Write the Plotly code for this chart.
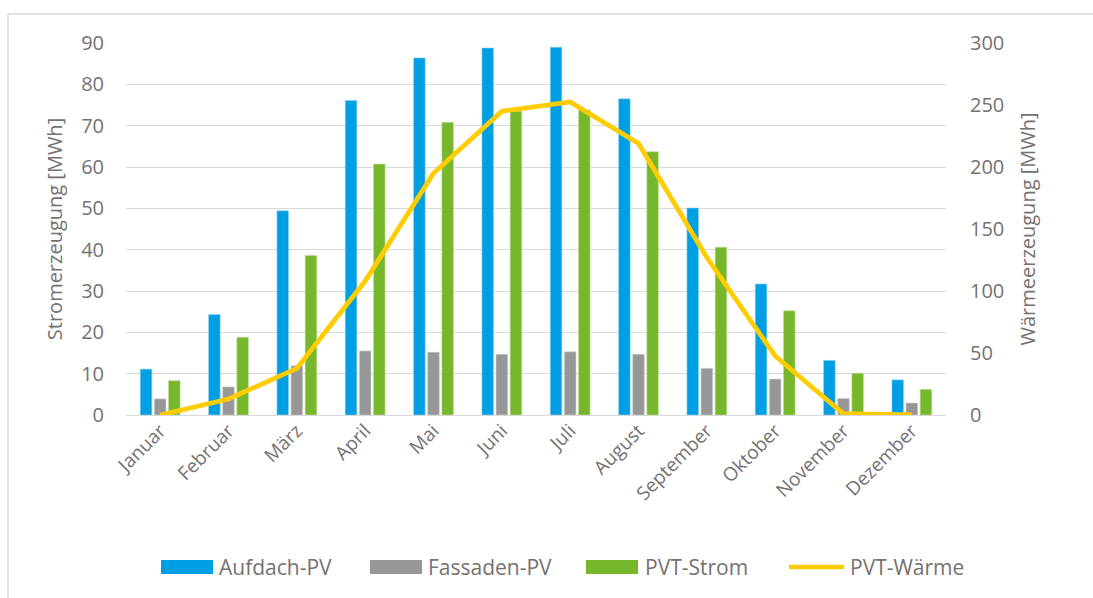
import plotly.graph_objects as go

months = ["Januar", "Februar", "März", "April", "Mai", "Juni", "Juli",
          "August", "September", "Oktober", "November", "Dezember"]
aufdach_pv = [11.1, 24.3, 49.4, 76.1, 86.4, 88.8, 89.0, 76.5, 50.1, 31.7, 13.2, 8.5]
fassaden_pv = [3.9, 6.8, 11.9, 15.5, 15.2, 14.7, 15.3, 14.7, 11.3, 8.7, 4.0, 2.9]
pvt_strom = [8.3, 18.8, 38.6, 60.7, 70.8, 73.5, 73.8, 63.7, 40.6, 25.2, 10.1, 6.2]
pvt_waerme = [0.0, 12.9, 37.6, 108.0, 195.0, 245.0, 252.5, 219.0, 127.0, 47.6, 1.0, 0.0]

left_ticks = list(range(0, 91, 10))
right_ticks = list(range(0, 301, 50))

series_names = ["Aufdach-PV", "Fassaden-PV", "PVT-Strom", "PVT-Wärme"]
series_colors = ["#009FE3", "#979797", "#77B72C", "#FFCC00"]

txt = "#767171"
font_family = "Open Sans, DejaVu Sans, sans-serif"

# plot area in pixels (for paper-coordinate conversion of decorations)
L, R, T, B = 126, 946, 43, 415
def px(x):
    return (x - L) / (R - L)
def py(y):
    return (B - y) / (B - T)

fig = go.Figure()
fig.add_trace(go.Bar(x=months, y=aufdach_pv, name=series_names[0],
                     marker=dict(color=series_colors[0], line=dict(color="#8FD3F2", width=0.6))))
fig.add_trace(go.Bar(x=months, y=fassaden_pv, name=series_names[1],
                     marker=dict(color=series_colors[1], line=dict(color="#CFCFCF", width=0.6))))
fig.add_trace(go.Bar(x=months, y=pvt_strom, name=series_names[2],
                     marker=dict(color=series_colors[2], line=dict(color="#BEE09A", width=0.6))))
fig.add_trace(go.Scatter(x=months, y=pvt_waerme, name=series_names[3], yaxis="y2",
                         mode="lines", line=dict(color=series_colors[3], width=4.8)))

fig.update_layout(
    width=1093, height=598,
    margin=dict(l=L, r=1093 - R, t=T, b=598 - B),
    paper_bgcolor="white", plot_bgcolor="white",
    font=dict(family=font_family, color=txt, size=20),
    barmode="group", bargap=0.38, bargroupgap=0.18,
    showlegend=False,
    xaxis=dict(tickangle=-45, tickfont=dict(size=19, color=txt), showgrid=False,
               showline=False, ticks=""),
    yaxis=dict(range=[0, 90], tickvals=left_ticks, showgrid=True,
               gridcolor="#D9D9D9", gridwidth=1.3, zeroline=True,
               zerolinecolor="#D9D9D9", zerolinewidth=1.3,
               tickfont=dict(size=20, color=txt), ticks="outside", ticklen=17,
               tickcolor="rgba(0,0,0,0)",
               title=dict(text="Stromerzeugung [MWh]", font=dict(size=20, color=txt),
                          standoff=13)),
    yaxis2=dict(range=[0, 300], tickvals=right_ticks, overlaying="y", side="right",
                showgrid=False, zeroline=False,
                tickfont=dict(size=20, color=txt), ticks="outside", ticklen=19,
                tickcolor="rgba(0,0,0,0)",
                title=dict(text="Wärmeerzeugung [MWh]", font=dict(size=20, color=txt),
                           standoff=17)),
)

# outer chart frame (only top and left edges are visible in the crop)
fig.add_shape(type="line", xref="paper", yref="paper",
              x0=px(8), x1=px(1093), y0=py(14), y1=py(14),
              line=dict(color="#D9D9D9", width=1.5), layer="below")
fig.add_shape(type="line", xref="paper", yref="paper",
              x0=px(8), x1=px(8), y0=py(14), y1=py(598),
              line=dict(color="#D9D9D9", width=1.5), layer="below")

# legend (Excel-style wide swatches)
legend_marker_x = [161, 370, 586, 789]
legend_text_x = [217, 426, 643, 848]
legend_y = 567
for i, name in enumerate(series_names):
    x0 = legend_marker_x[i]
    if i < 3:
        fig.add_shape(type="rect", xref="paper", yref="paper",
                      x0=px(x0), x1=px(x0 + 52), y0=py(legend_y + 7), y1=py(legend_y - 7),
                      line=dict(width=0), fillcolor=series_colors[i])
    else:
        fig.add_shape(type="line", xref="paper", yref="paper",
                      x0=px(x0), x1=px(x0 + 55), y0=py(legend_y), y1=py(legend_y),
                      line=dict(color=series_colors[i], width=4.5))
    fig.add_annotation(text=name, xref="paper", yref="paper",
                       x=px(legend_text_x[i]), y=py(legend_y), xanchor="left", yanchor="middle",
                       showarrow=False, font=dict(size=21, color=txt))

fig.write_html("out.html", config={"displayModeBar": False},
               post_script="document.body.style.margin='0';document.body.style.overflow='hidden';")
